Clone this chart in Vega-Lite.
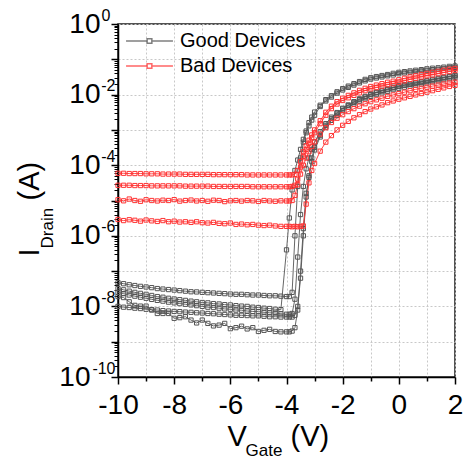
{
"$schema": "https://vega.github.io/schema/vega-lite/v6.json",
"width": 337, "height": 353,
"autosize": {"type": "none"},
"padding": {"left": 118, "top": 24, "right": 10, "bottom": 81},
"background": "white",
"config": {"view": {"stroke": "#1a1a1a", "strokeWidth": 1.5}, "font": "Liberation Sans"},
"data": {"values": [
{"g":"G","s":1,"v":-10,"i":4.7e-8},{"g":"G","s":1,"v":-9.8,"i":4.4e-8},{"g":"G","s":1,"v":-9.6,"i":4.1e-8},{"g":"G","s":1,"v":-9.4,"i":3.9e-8},{"g":"G","s":1,"v":-9.2,"i":3.7e-8},{"g":"G","s":1,"v":-9,"i":3.55e-8},{"g":"G","s":1,"v":-8.8,"i":3.4e-8},{"g":"G","s":1,"v":-8.6,"i":3.2e-8},{"g":"G","s":1,"v":-8.4,"i":3.1e-8},{"g":"G","s":1,"v":-8.2,"i":3.0e-8},{"g":"G","s":1,"v":-8,"i":2.9e-8},{"g":"G","s":1,"v":-7.8,"i":2.8e-8},{"g":"G","s":1,"v":-7.6,"i":2.7e-8},{"g":"G","s":1,"v":-7.4,"i":2.6e-8},{"g":"G","s":1,"v":-7.2,"i":2.57e-8},{"g":"G","s":1,"v":-7,"i":2.5e-8},{"g":"G","s":1,"v":-6.8,"i":2.45e-8},{"g":"G","s":1,"v":-6.6,"i":2.4e-8},{"g":"G","s":1,"v":-6.4,"i":2.34e-8},{"g":"G","s":1,"v":-6.2,"i":2.3e-8},{"g":"G","s":1,"v":-6,"i":2.24e-8},{"g":"G","s":1,"v":-5.8,"i":2.2e-8},{"g":"G","s":1,"v":-5.6,"i":2.2e-8},{"g":"G","s":1,"v":-5.4,"i":2.14e-8},{"g":"G","s":1,"v":-5.2,"i":2.1e-8},{"g":"G","s":1,"v":-5,"i":2.1e-8},{"g":"G","s":1,"v":-4.8,"i":2.04e-8},{"g":"G","s":1,"v":-4.6,"i":2.0e-8},{"g":"G","s":1,"v":-4.4,"i":2.0e-8},{"g":"G","s":1,"v":-4.2,"i":1.95e-8},{"g":"G","s":1,"v":-4,"i":1.9e-8},
{"g":"G","s":1,"v":-3.9,"i":1.9e-8},{"g":"G","s":1,"v":-3.8,"i":2.5e-8},{"g":"G","s":1,"v":-3.7,"i":1e-6},{"g":"G","s":1,"v":-3.6,"i":2.5e-5},{"g":"G","s":1,"v":-3.5,"i":1.6e-4},{"g":"G","s":1,"v":-3.4,"i":4.5e-4},{"g":"G","s":1,"v":-3.3,"i":8.3e-4},{"g":"G","s":1,"v":-3.2,"i":1.3e-3},{"g":"G","s":1,"v":-3.1,"i":1.9e-3},{"g":"G","s":1,"v":-3,"i":2.6e-3},
{"g":"G","s":1,"v":-2.8,"i":4.6e-3},{"g":"G","s":1,"v":-2.6,"i":6.6e-3},{"g":"G","s":1,"v":-2.4,"i":8.5e-3},{"g":"G","s":1,"v":-2.2,"i":1.1e-2},{"g":"G","s":1,"v":-2,"i":1.35e-2},{"g":"G","s":1,"v":-1.8,"i":1.6e-2},{"g":"G","s":1,"v":-1.6,"i":1.86e-2},{"g":"G","s":1,"v":-1.4,"i":2.14e-2},{"g":"G","s":1,"v":-1.2,"i":2.45e-2},{"g":"G","s":1,"v":-1,"i":2.75e-2},{"g":"G","s":1,"v":-0.8,"i":2.95e-2},{"g":"G","s":1,"v":-0.6,"i":3.16e-2},{"g":"G","s":1,"v":-0.4,"i":3.4e-2},{"g":"G","s":1,"v":-0.2,"i":3.6e-2},{"g":"G","s":1,"v":0,"i":3.9e-2},{"g":"G","s":1,"v":0.2,"i":4.1e-2},{"g":"G","s":1,"v":0.4,"i":4.3e-2},{"g":"G","s":1,"v":0.6,"i":4.5e-2},{"g":"G","s":1,"v":0.8,"i":4.7e-2},{"g":"G","s":1,"v":1,"i":4.9e-2},{"g":"G","s":1,"v":1.2,"i":5.1e-2},{"g":"G","s":1,"v":1.4,"i":5.25e-2},{"g":"G","s":1,"v":1.6,"i":5.5e-2},{"g":"G","s":1,"v":1.8,"i":5.75e-2},{"g":"G","s":1,"v":2,"i":5.9e-2},
{"g":"G","s":2,"v":-10,"i":3.2e-8},{"g":"G","s":2,"v":-9.8,"i":2.95e-8},{"g":"G","s":2,"v":-9.6,"i":2.7e-8},{"g":"G","s":2,"v":-9.4,"i":2.5e-8},{"g":"G","s":2,"v":-9.2,"i":2.34e-8},{"g":"G","s":2,"v":-9,"i":2.2e-8},{"g":"G","s":2,"v":-8.8,"i":2.04e-8},{"g":"G","s":2,"v":-8.6,"i":1.9e-8},{"g":"G","s":2,"v":-8.4,"i":1.82e-8},{"g":"G","s":2,"v":-8.2,"i":1.7e-8},{"g":"G","s":2,"v":-8,"i":1.62e-8},{"g":"G","s":2,"v":-7.8,"i":1.55e-8},{"g":"G","s":2,"v":-7.6,"i":1.48e-8},{"g":"G","s":2,"v":-7.4,"i":1.41e-8},{"g":"G","s":2,"v":-7.2,"i":1.35e-8},{"g":"G","s":2,"v":-7,"i":1.29e-8},{"g":"G","s":2,"v":-6.8,"i":1.26e-8},{"g":"G","s":2,"v":-6.6,"i":1.2e-8},{"g":"G","s":2,"v":-6.4,"i":1.17e-8},{"g":"G","s":2,"v":-6.2,"i":1.12e-8},{"g":"G","s":2,"v":-6,"i":1.1e-8},{"g":"G","s":2,"v":-5.8,"i":1.05e-8},{"g":"G","s":2,"v":-5.6,"i":1.02e-8},{"g":"G","s":2,"v":-5.4,"i":1.0e-8},{"g":"G","s":2,"v":-5.2,"i":9.5e-9},{"g":"G","s":2,"v":-5,"i":9.3e-9},{"g":"G","s":2,"v":-4.8,"i":8.9e-9},{"g":"G","s":2,"v":-4.6,"i":8.7e-9},{"g":"G","s":2,"v":-4.4,"i":8.3e-9},{"g":"G","s":2,"v":-4.2,"i":8.1e-9},{"g":"G","s":2,"v":-4,"i":4e-7},
{"g":"G","s":2,"v":-3.9,"i":3.2e-6},{"g":"G","s":2,"v":-3.8,"i":2e-5},{"g":"G","s":2,"v":-3.7,"i":7.1e-5},{"g":"G","s":2,"v":-3.6,"i":1.4e-4},{"g":"G","s":2,"v":-3.5,"i":2.8e-4},{"g":"G","s":2,"v":-3.4,"i":5.4e-4},{"g":"G","s":2,"v":-3.3,"i":9.3e-4},{"g":"G","s":2,"v":-3.2,"i":1.6e-3},{"g":"G","s":2,"v":-3.1,"i":2.3e-3},{"g":"G","s":2,"v":-3,"i":3.2e-3},
{"g":"G","s":2,"v":-2.8,"i":5.0e-3},{"g":"G","s":2,"v":-2.6,"i":7.2e-3},{"g":"G","s":2,"v":-2.4,"i":9.3e-3},{"g":"G","s":2,"v":-2.2,"i":1.2e-2},{"g":"G","s":2,"v":-2,"i":1.48e-2},{"g":"G","s":2,"v":-1.8,"i":1.74e-2},{"g":"G","s":2,"v":-1.6,"i":2.04e-2},{"g":"G","s":2,"v":-1.4,"i":2.34e-2},{"g":"G","s":2,"v":-1.2,"i":2.7e-2},{"g":"G","s":2,"v":-1,"i":3.0e-2},{"g":"G","s":2,"v":-0.8,"i":3.24e-2},{"g":"G","s":2,"v":-0.6,"i":3.47e-2},{"g":"G","s":2,"v":-0.4,"i":3.7e-2},{"g":"G","s":2,"v":-0.2,"i":4.0e-2},{"g":"G","s":2,"v":0,"i":4.27e-2},{"g":"G","s":2,"v":0.2,"i":4.47e-2},{"g":"G","s":2,"v":0.4,"i":4.68e-2},{"g":"G","s":2,"v":0.6,"i":4.9e-2},{"g":"G","s":2,"v":0.8,"i":5.1e-2},{"g":"G","s":2,"v":1,"i":5.37e-2},{"g":"G","s":2,"v":1.2,"i":5.6e-2},{"g":"G","s":2,"v":1.4,"i":5.75e-2},{"g":"G","s":2,"v":1.6,"i":6.0e-2},{"g":"G","s":2,"v":1.8,"i":6.3e-2},{"g":"G","s":2,"v":2,"i":6.46e-2},
{"g":"G","s":3,"v":-10,"i":2.5e-8},{"g":"G","s":3,"v":-9.8,"i":2.3e-8},{"g":"G","s":3,"v":-9.6,"i":2.1e-8},{"g":"G","s":3,"v":-9.4,"i":1.95e-8},{"g":"G","s":3,"v":-9.2,"i":1.82e-8},{"g":"G","s":3,"v":-9,"i":1.7e-8},{"g":"G","s":3,"v":-8.8,"i":1.58e-8},{"g":"G","s":3,"v":-8.6,"i":1.48e-8},{"g":"G","s":3,"v":-8.4,"i":1.41e-8},{"g":"G","s":3,"v":-8.2,"i":1.32e-8},{"g":"G","s":3,"v":-8,"i":1.26e-8},{"g":"G","s":3,"v":-7.8,"i":1.2e-8},{"g":"G","s":3,"v":-7.6,"i":1.15e-8},{"g":"G","s":3,"v":-7.4,"i":1.1e-8},{"g":"G","s":3,"v":-7.2,"i":1.05e-8},{"g":"G","s":3,"v":-7,"i":1.0e-8},{"g":"G","s":3,"v":-6.8,"i":9.5e-9},{"g":"G","s":3,"v":-6.6,"i":9.3e-9},{"g":"G","s":3,"v":-6.4,"i":8.9e-9},{"g":"G","s":3,"v":-6.2,"i":8.5e-9},{"g":"G","s":3,"v":-6,"i":8.3e-9},{"g":"G","s":3,"v":-5.8,"i":7.9e-9},{"g":"G","s":3,"v":-5.6,"i":7.8e-9},{"g":"G","s":3,"v":-5.4,"i":7.4e-9},{"g":"G","s":3,"v":-5.2,"i":7.2e-9},{"g":"G","s":3,"v":-5,"i":7.1e-9},{"g":"G","s":3,"v":-4.8,"i":6.8e-9},{"g":"G","s":3,"v":-4.6,"i":6.6e-9},{"g":"G","s":3,"v":-4.4,"i":6.5e-9},{"g":"G","s":3,"v":-4.2,"i":6.2e-9},{"g":"G","s":3,"v":-4,"i":6.0e-9},
{"g":"G","s":3,"v":-3.9,"i":6.0e-9},{"g":"G","s":3,"v":-3.8,"i":6.3e-9},{"g":"G","s":3,"v":-3.7,"i":1.6e-8},{"g":"G","s":3,"v":-3.6,"i":2.5e-7},{"g":"G","s":3,"v":-3.5,"i":4e-6},{"g":"G","s":3,"v":-3.4,"i":2.5e-5},{"g":"G","s":3,"v":-3.3,"i":7.9e-5},{"g":"G","s":3,"v":-3.2,"i":1.6e-4},{"g":"G","s":3,"v":-3.1,"i":2.8e-4},{"g":"G","s":3,"v":-3,"i":4.5e-4},
{"g":"G","s":3,"v":-2.8,"i":8.9e-4},{"g":"G","s":3,"v":-2.6,"i":1.5e-3},{"g":"G","s":3,"v":-2.4,"i":2.3e-3},{"g":"G","s":3,"v":-2.2,"i":3.1e-3},{"g":"G","s":3,"v":-2,"i":4.1e-3},{"g":"G","s":3,"v":-1.8,"i":5.1e-3},{"g":"G","s":3,"v":-1.6,"i":6.3e-3},{"g":"G","s":3,"v":-1.4,"i":7.6e-3},{"g":"G","s":3,"v":-1.2,"i":8.9e-3},{"g":"G","s":3,"v":-1,"i":1.05e-2},{"g":"G","s":3,"v":-0.8,"i":1.17e-2},{"g":"G","s":3,"v":-0.6,"i":1.32e-2},{"g":"G","s":3,"v":-0.4,"i":1.45e-2},{"g":"G","s":3,"v":-0.2,"i":1.62e-2},{"g":"G","s":3,"v":0,"i":1.78e-2},{"g":"G","s":3,"v":0.2,"i":1.9e-2},{"g":"G","s":3,"v":0.4,"i":2.04e-2},{"g":"G","s":3,"v":0.6,"i":2.2e-2},{"g":"G","s":3,"v":0.8,"i":2.34e-2},{"g":"G","s":3,"v":1,"i":2.5e-2},{"g":"G","s":3,"v":1.2,"i":2.7e-2},{"g":"G","s":3,"v":1.4,"i":2.9e-2},{"g":"G","s":3,"v":1.6,"i":3.1e-2},{"g":"G","s":3,"v":1.8,"i":3.3e-2},{"g":"G","s":3,"v":2,"i":3.55e-2},
{"g":"G","s":4,"v":-10,"i":1.0e-8},{"g":"G","s":4,"v":-9.8,"i":9.5e-9},{"g":"G","s":4,"v":-9.6,"i":9.3e-9},{"g":"G","s":4,"v":-9.4,"i":8.9e-9},{"g":"G","s":4,"v":-9.2,"i":8.7e-9},{"g":"G","s":4,"v":-9,"i":8.3e-9},{"g":"G","s":4,"v":-8.8,"i":8.1e-9},{"g":"G","s":4,"v":-8.6,"i":7.9e-9},{"g":"G","s":4,"v":-8.4,"i":7.6e-9},{"g":"G","s":4,"v":-8.2,"i":7.4e-9},{"g":"G","s":4,"v":-8,"i":7.2e-9},{"g":"G","s":4,"v":-7.8,"i":7.1e-9},{"g":"G","s":4,"v":-7.6,"i":6.9e-9},{"g":"G","s":4,"v":-7.4,"i":6.8e-9},{"g":"G","s":4,"v":-7.2,"i":6.6e-9},{"g":"G","s":4,"v":-7,"i":6.5e-9},{"g":"G","s":4,"v":-6.8,"i":6.3e-9},{"g":"G","s":4,"v":-6.6,"i":6.2e-9},{"g":"G","s":4,"v":-6.4,"i":6.0e-9},{"g":"G","s":4,"v":-6.2,"i":5.9e-9},{"g":"G","s":4,"v":-6,"i":5.75e-9},{"g":"G","s":4,"v":-5.8,"i":5.6e-9},{"g":"G","s":4,"v":-5.6,"i":5.6e-9},{"g":"G","s":4,"v":-5.4,"i":5.5e-9},{"g":"G","s":4,"v":-5.2,"i":5.4e-9},{"g":"G","s":4,"v":-5,"i":5.4e-9},{"g":"G","s":4,"v":-4.8,"i":5.25e-9},{"g":"G","s":4,"v":-4.6,"i":5.1e-9},{"g":"G","s":4,"v":-4.4,"i":5.1e-9},{"g":"G","s":4,"v":-4.2,"i":5.0e-9},{"g":"G","s":4,"v":-4,"i":5.0e-9},
{"g":"G","s":4,"v":-3.9,"i":5.0e-9},{"g":"G","s":4,"v":-3.8,"i":5.0e-9},{"g":"G","s":4,"v":-3.7,"i":5.6e-9},{"g":"G","s":4,"v":-3.6,"i":1e-8},{"g":"G","s":4,"v":-3.5,"i":6.3e-8},{"g":"G","s":4,"v":-3.4,"i":1e-6},{"g":"G","s":4,"v":-3.3,"i":1.26e-5},{"g":"G","s":4,"v":-3.2,"i":5e-5},{"g":"G","s":4,"v":-3.1,"i":1.6e-4},{"g":"G","s":4,"v":-3,"i":3.2e-4},
{"g":"G","s":4,"v":-2.8,"i":7.1e-4},{"g":"G","s":4,"v":-2.6,"i":1.35e-3},{"g":"G","s":4,"v":-2.4,"i":2.1e-3},{"g":"G","s":4,"v":-2.2,"i":2.95e-3},{"g":"G","s":4,"v":-2,"i":3.9e-3},{"g":"G","s":4,"v":-1.8,"i":4.9e-3},{"g":"G","s":4,"v":-1.6,"i":6.0e-3},{"g":"G","s":4,"v":-1.4,"i":7.2e-3},{"g":"G","s":4,"v":-1.2,"i":8.5e-3},{"g":"G","s":4,"v":-1,"i":1.0e-2},{"g":"G","s":4,"v":-0.8,"i":1.12e-2},{"g":"G","s":4,"v":-0.6,"i":1.26e-2},{"g":"G","s":4,"v":-0.4,"i":1.38e-2},{"g":"G","s":4,"v":-0.2,"i":1.55e-2},{"g":"G","s":4,"v":0,"i":1.7e-2},{"g":"G","s":4,"v":0.2,"i":1.82e-2},{"g":"G","s":4,"v":0.4,"i":1.95e-2},{"g":"G","s":4,"v":0.6,"i":2.1e-2},{"g":"G","s":4,"v":0.8,"i":2.24e-2},{"g":"G","s":4,"v":1,"i":2.4e-2},{"g":"G","s":4,"v":1.2,"i":2.57e-2},{"g":"G","s":4,"v":1.4,"i":2.75e-2},{"g":"G","s":4,"v":1.6,"i":2.95e-2},{"g":"G","s":4,"v":1.8,"i":3.16e-2},{"g":"G","s":4,"v":2,"i":3.4e-2},
{"g":"G","s":5,"v":-10,"i":1.9e-8},{"g":"G","s":5,"v":-9.8,"i":1.78e-8},{"g":"G","s":5,"v":-9.6,"i":1.35e-8},{"g":"G","s":5,"v":-9.4,"i":1.07e-8},{"g":"G","s":5,"v":-9.2,"i":1.02e-8},{"g":"G","s":5,"v":-9,"i":1.02e-8},{"g":"G","s":5,"v":-8.8,"i":7.9e-9},{"g":"G","s":5,"v":-8.6,"i":6.3e-9},{"g":"G","s":5,"v":-8.4,"i":6.3e-9},{"g":"G","s":5,"v":-8.2,"i":6.3e-9},{"g":"G","s":5,"v":-8,"i":4.6e-9},{"g":"G","s":5,"v":-7.8,"i":4.8e-9},{"g":"G","s":5,"v":-7.6,"i":5.1e-9},{"g":"G","s":5,"v":-7.4,"i":4.1e-9},{"g":"G","s":5,"v":-7.2,"i":3.4e-9},{"g":"G","s":5,"v":-7,"i":4.1e-9},{"g":"G","s":5,"v":-6.8,"i":3.3e-9},{"g":"G","s":5,"v":-6.6,"i":2.8e-9},{"g":"G","s":5,"v":-6.4,"i":2.95e-9},{"g":"G","s":5,"v":-6.2,"i":3.3e-9},{"g":"G","s":5,"v":-6,"i":2.34e-9},{"g":"G","s":5,"v":-5.8,"i":2.5e-9},{"g":"G","s":5,"v":-5.6,"i":2.75e-9},{"g":"G","s":5,"v":-5.4,"i":2.3e-9},{"g":"G","s":5,"v":-5.2,"i":2.5e-9},{"g":"G","s":5,"v":-5,"i":1.95e-9},{"g":"G","s":5,"v":-4.8,"i":2.1e-9},{"g":"G","s":5,"v":-4.6,"i":2.24e-9},{"g":"G","s":5,"v":-4.4,"i":1.95e-9},{"g":"G","s":5,"v":-4.2,"i":1.9e-9},{"g":"G","s":5,"v":-4,"i":1.9e-9},
{"g":"G","s":5,"v":-3.9,"i":1.9e-9},{"g":"G","s":5,"v":-3.8,"i":2.0e-9},{"g":"G","s":5,"v":-3.7,"i":2.5e-9},{"g":"G","s":5,"v":-3.6,"i":7.9e-9},{"g":"G","s":5,"v":-3.5,"i":1e-7},{"g":"G","s":5,"v":-3.4,"i":1.6e-6},{"g":"G","s":5,"v":-3.3,"i":1.6e-5},{"g":"G","s":5,"v":-3.2,"i":4.5e-5},{"g":"G","s":5,"v":-3.1,"i":1.26e-4},{"g":"G","s":5,"v":-3,"i":2.7e-4},
{"g":"G","s":5,"v":-2.8,"i":6.3e-4},{"g":"G","s":5,"v":-2.6,"i":1.2e-3},{"g":"G","s":5,"v":-2.4,"i":1.86e-3},{"g":"G","s":5,"v":-2.2,"i":2.6e-3},{"g":"G","s":5,"v":-2,"i":3.5e-3},{"g":"G","s":5,"v":-1.8,"i":4.4e-3},{"g":"G","s":5,"v":-1.6,"i":5.4e-3},{"g":"G","s":5,"v":-1.4,"i":6.5e-3},{"g":"G","s":5,"v":-1.2,"i":7.6e-3},{"g":"G","s":5,"v":-1,"i":8.9e-3},{"g":"G","s":5,"v":-0.8,"i":1.0e-2},{"g":"G","s":5,"v":-0.6,"i":1.12e-2},{"g":"G","s":5,"v":-0.4,"i":1.23e-2},{"g":"G","s":5,"v":-0.2,"i":1.38e-2},{"g":"G","s":5,"v":0,"i":1.51e-2},{"g":"G","s":5,"v":0.2,"i":1.62e-2},{"g":"G","s":5,"v":0.4,"i":1.74e-2},{"g":"G","s":5,"v":0.6,"i":1.86e-2},{"g":"G","s":5,"v":0.8,"i":2.0e-2},{"g":"G","s":5,"v":1,"i":2.14e-2},{"g":"G","s":5,"v":1.2,"i":2.3e-2},{"g":"G","s":5,"v":1.4,"i":2.45e-2},{"g":"G","s":5,"v":1.6,"i":2.63e-2},{"g":"G","s":5,"v":1.8,"i":2.8e-2},{"g":"G","s":5,"v":2,"i":3.0e-2},
{"g":"B","s":6,"v":-10,"i":5.9e-5},{"g":"B","s":6,"v":-9.8,"i":5.9e-5},{"g":"B","s":6,"v":-9.6,"i":5.8e-5},{"g":"B","s":6,"v":-9.4,"i":5.8e-5},{"g":"B","s":6,"v":-9.2,"i":5.8e-5},{"g":"B","s":6,"v":-9,"i":5.7e-5},{"g":"B","s":6,"v":-8.8,"i":5.7e-5},{"g":"B","s":6,"v":-8.6,"i":5.7e-5},{"g":"B","s":6,"v":-8.4,"i":5.6e-5},{"g":"B","s":6,"v":-8.2,"i":5.6e-5},{"g":"B","s":6,"v":-8,"i":5.6e-5},{"g":"B","s":6,"v":-7.8,"i":5.6e-5},{"g":"B","s":6,"v":-7.6,"i":5.5e-5},{"g":"B","s":6,"v":-7.4,"i":5.5e-5},{"g":"B","s":6,"v":-7.2,"i":5.5e-5},{"g":"B","s":6,"v":-7,"i":5.5e-5},{"g":"B","s":6,"v":-6.8,"i":5.5e-5},{"g":"B","s":6,"v":-6.6,"i":5.4e-5},{"g":"B","s":6,"v":-6.4,"i":5.4e-5},{"g":"B","s":6,"v":-6.2,"i":5.4e-5},{"g":"B","s":6,"v":-6,"i":5.4e-5},{"g":"B","s":6,"v":-5.8,"i":5.4e-5},{"g":"B","s":6,"v":-5.6,"i":5.4e-5},{"g":"B","s":6,"v":-5.4,"i":5.3e-5},{"g":"B","s":6,"v":-5.2,"i":5.3e-5},{"g":"B","s":6,"v":-5,"i":5.3e-5},{"g":"B","s":6,"v":-4.8,"i":5.3e-5},{"g":"B","s":6,"v":-4.6,"i":5.3e-5},{"g":"B","s":6,"v":-4.4,"i":5.3e-5},{"g":"B","s":6,"v":-4.2,"i":5.3e-5},{"g":"B","s":6,"v":-4,"i":5.3e-5},
{"g":"B","s":6,"v":-3.9,"i":5.3e-5},{"g":"B","s":6,"v":-3.8,"i":5.3e-5},{"g":"B","s":6,"v":-3.7,"i":5.5e-5},{"g":"B","s":6,"v":-3.6,"i":7.1e-5},{"g":"B","s":6,"v":-3.5,"i":1.26e-4},{"g":"B","s":6,"v":-3.4,"i":2.4e-4},{"g":"B","s":6,"v":-3.3,"i":3.55e-4},{"g":"B","s":6,"v":-3.2,"i":5.1e-4},{"g":"B","s":6,"v":-3.1,"i":7.2e-4},{"g":"B","s":6,"v":-3,"i":1.0e-3},
{"g":"B","s":6,"v":-2.8,"i":1.82e-3},{"g":"B","s":6,"v":-2.6,"i":3.16e-3},{"g":"B","s":6,"v":-2.4,"i":4.7e-3},{"g":"B","s":6,"v":-2.2,"i":6.3e-3},{"g":"B","s":6,"v":-2,"i":7.9e-3},{"g":"B","s":6,"v":-1.8,"i":9.5e-3},{"g":"B","s":6,"v":-1.6,"i":1.12e-2},{"g":"B","s":6,"v":-1.4,"i":1.32e-2},{"g":"B","s":6,"v":-1.2,"i":1.51e-2},{"g":"B","s":6,"v":-1,"i":1.7e-2},{"g":"B","s":6,"v":-0.8,"i":1.86e-2},{"g":"B","s":6,"v":-0.6,"i":2.04e-2},{"g":"B","s":6,"v":-0.4,"i":2.24e-2},{"g":"B","s":6,"v":-0.2,"i":2.4e-2},{"g":"B","s":6,"v":0,"i":2.63e-2},{"g":"B","s":6,"v":0.2,"i":2.9e-2},{"g":"B","s":6,"v":0.4,"i":3.16e-2},{"g":"B","s":6,"v":0.6,"i":3.4e-2},{"g":"B","s":6,"v":0.8,"i":3.7e-2},{"g":"B","s":6,"v":1,"i":4.0e-2},{"g":"B","s":6,"v":1.2,"i":4.27e-2},{"g":"B","s":6,"v":1.4,"i":4.57e-2},{"g":"B","s":6,"v":1.6,"i":4.9e-2},{"g":"B","s":6,"v":1.8,"i":5.25e-2},{"g":"B","s":6,"v":2,"i":5.5e-2},
{"g":"B","s":7,"v":-10,"i":2.7e-5},{"g":"B","s":7,"v":-9.8,"i":2.7e-5},{"g":"B","s":7,"v":-9.6,"i":2.7e-5},{"g":"B","s":7,"v":-9.4,"i":2.65e-5},{"g":"B","s":7,"v":-9.2,"i":2.65e-5},{"g":"B","s":7,"v":-9,"i":2.65e-5},{"g":"B","s":7,"v":-8.8,"i":2.6e-5},{"g":"B","s":7,"v":-8.6,"i":2.6e-5},{"g":"B","s":7,"v":-8.4,"i":2.6e-5},{"g":"B","s":7,"v":-8.2,"i":2.6e-5},{"g":"B","s":7,"v":-8,"i":2.6e-5},{"g":"B","s":7,"v":-7.8,"i":2.6e-5},{"g":"B","s":7,"v":-7.6,"i":2.55e-5},{"g":"B","s":7,"v":-7.4,"i":2.55e-5},{"g":"B","s":7,"v":-7.2,"i":2.55e-5},{"g":"B","s":7,"v":-7,"i":2.55e-5},{"g":"B","s":7,"v":-6.8,"i":2.55e-5},{"g":"B","s":7,"v":-6.6,"i":2.5e-5},{"g":"B","s":7,"v":-6.4,"i":2.5e-5},{"g":"B","s":7,"v":-6.2,"i":2.5e-5},{"g":"B","s":7,"v":-6,"i":2.5e-5},{"g":"B","s":7,"v":-5.8,"i":2.5e-5},{"g":"B","s":7,"v":-5.6,"i":2.5e-5},{"g":"B","s":7,"v":-5.4,"i":2.5e-5},{"g":"B","s":7,"v":-5.2,"i":2.45e-5},{"g":"B","s":7,"v":-5,"i":2.45e-5},{"g":"B","s":7,"v":-4.8,"i":2.45e-5},{"g":"B","s":7,"v":-4.6,"i":2.45e-5},{"g":"B","s":7,"v":-4.4,"i":2.45e-5},{"g":"B","s":7,"v":-4.2,"i":2.45e-5},{"g":"B","s":7,"v":-4,"i":2.45e-5},
{"g":"B","s":7,"v":-3.9,"i":2.45e-5},{"g":"B","s":7,"v":-3.8,"i":2.5e-5},{"g":"B","s":7,"v":-3.7,"i":2.7e-5},{"g":"B","s":7,"v":-3.6,"i":4e-5},{"g":"B","s":7,"v":-3.5,"i":8.9e-5},{"g":"B","s":7,"v":-3.4,"i":1.78e-4},{"g":"B","s":7,"v":-3.3,"i":2.8e-4},{"g":"B","s":7,"v":-3.2,"i":4.2e-4},{"g":"B","s":7,"v":-3.1,"i":6.0e-4},{"g":"B","s":7,"v":-3,"i":8.3e-4},
{"g":"B","s":7,"v":-2.8,"i":1.5e-3},{"g":"B","s":7,"v":-2.6,"i":2.6e-3},{"g":"B","s":7,"v":-2.4,"i":4.0e-3},{"g":"B","s":7,"v":-2.2,"i":5.4e-3},{"g":"B","s":7,"v":-2,"i":6.8e-3},{"g":"B","s":7,"v":-1.8,"i":8.1e-3},{"g":"B","s":7,"v":-1.6,"i":9.5e-3},{"g":"B","s":7,"v":-1.4,"i":1.12e-2},{"g":"B","s":7,"v":-1.2,"i":1.29e-2},{"g":"B","s":7,"v":-1,"i":1.45e-2},{"g":"B","s":7,"v":-0.8,"i":1.58e-2},{"g":"B","s":7,"v":-0.6,"i":1.74e-2},{"g":"B","s":7,"v":-0.4,"i":1.9e-2},{"g":"B","s":7,"v":-0.2,"i":2.04e-2},{"g":"B","s":7,"v":0,"i":2.24e-2},{"g":"B","s":7,"v":0.2,"i":2.45e-2},{"g":"B","s":7,"v":0.4,"i":2.7e-2},{"g":"B","s":7,"v":0.6,"i":2.9e-2},{"g":"B","s":7,"v":0.8,"i":3.16e-2},{"g":"B","s":7,"v":1,"i":3.4e-2},{"g":"B","s":7,"v":1.2,"i":3.6e-2},{"g":"B","s":7,"v":1.4,"i":3.9e-2},{"g":"B","s":7,"v":1.6,"i":4.2e-2},{"g":"B","s":7,"v":1.8,"i":4.5e-2},{"g":"B","s":7,"v":2,"i":4.8e-2},
{"g":"B","s":8,"v":-10,"i":1.05e-5},{"g":"B","s":8,"v":-9.8,"i":9.8e-6},{"g":"B","s":8,"v":-9.6,"i":1.1e-5},{"g":"B","s":8,"v":-9.4,"i":1.0e-5},{"g":"B","s":8,"v":-9.2,"i":9.5e-6},{"g":"B","s":8,"v":-9,"i":1.05e-5},{"g":"B","s":8,"v":-8.8,"i":1.0e-5},{"g":"B","s":8,"v":-8.6,"i":9.7e-6},{"g":"B","s":8,"v":-8.4,"i":1.02e-5},{"g":"B","s":8,"v":-8.2,"i":1.0e-5},{"g":"B","s":8,"v":-8,"i":1.06e-5},{"g":"B","s":8,"v":-7.8,"i":9.6e-6},{"g":"B","s":8,"v":-7.6,"i":1.0e-5},{"g":"B","s":8,"v":-7.4,"i":1.03e-5},{"g":"B","s":8,"v":-7.2,"i":9.7e-6},{"g":"B","s":8,"v":-7,"i":1.0e-5},{"g":"B","s":8,"v":-6.8,"i":9.5e-6},{"g":"B","s":8,"v":-6.6,"i":1.02e-5},{"g":"B","s":8,"v":-6.4,"i":1.0e-5},{"g":"B","s":8,"v":-6.2,"i":9.3e-6},{"g":"B","s":8,"v":-6,"i":9.8e-6},{"g":"B","s":8,"v":-5.8,"i":1.0e-5},{"g":"B","s":8,"v":-5.6,"i":9.6e-6},{"g":"B","s":8,"v":-5.4,"i":1.0e-5},{"g":"B","s":8,"v":-5.2,"i":9.8e-6},{"g":"B","s":8,"v":-5,"i":9.4e-6},{"g":"B","s":8,"v":-4.8,"i":1.0e-5},{"g":"B","s":8,"v":-4.6,"i":9.7e-6},{"g":"B","s":8,"v":-4.4,"i":9.5e-6},{"g":"B","s":8,"v":-4.2,"i":9.8e-6},{"g":"B","s":8,"v":-4,"i":9.7e-6},
{"g":"B","s":8,"v":-3.9,"i":9.7e-6},{"g":"B","s":8,"v":-3.8,"i":1.0e-5},{"g":"B","s":8,"v":-3.7,"i":1.4e-5},{"g":"B","s":8,"v":-3.6,"i":2.8e-5},{"g":"B","s":8,"v":-3.5,"i":5.6e-5},{"g":"B","s":8,"v":-3.4,"i":1.0e-4},{"g":"B","s":8,"v":-3.3,"i":1.6e-4},{"g":"B","s":8,"v":-3.2,"i":2.4e-4},{"g":"B","s":8,"v":-3.1,"i":3.4e-4},{"g":"B","s":8,"v":-3,"i":4.6e-4},
{"g":"B","s":8,"v":-2.8,"i":7.6e-4},{"g":"B","s":8,"v":-2.6,"i":1.15e-3},{"g":"B","s":8,"v":-2.4,"i":1.62e-3},{"g":"B","s":8,"v":-2.2,"i":2.14e-3},{"g":"B","s":8,"v":-2,"i":2.7e-3},{"g":"B","s":8,"v":-1.8,"i":3.3e-3},{"g":"B","s":8,"v":-1.6,"i":4.0e-3},{"g":"B","s":8,"v":-1.4,"i":4.7e-3},{"g":"B","s":8,"v":-1.2,"i":5.5e-3},{"g":"B","s":8,"v":-1,"i":6.3e-3},{"g":"B","s":8,"v":-0.8,"i":7.1e-3},{"g":"B","s":8,"v":-0.6,"i":7.9e-3},{"g":"B","s":8,"v":-0.4,"i":8.9e-3},{"g":"B","s":8,"v":-0.2,"i":9.8e-3},{"g":"B","s":8,"v":0,"i":1.07e-2},{"g":"B","s":8,"v":0.2,"i":1.17e-2},{"g":"B","s":8,"v":0.4,"i":1.29e-2},{"g":"B","s":8,"v":0.6,"i":1.41e-2},{"g":"B","s":8,"v":0.8,"i":1.51e-2},{"g":"B","s":8,"v":1,"i":1.62e-2},{"g":"B","s":8,"v":1.2,"i":1.74e-2},{"g":"B","s":8,"v":1.4,"i":1.86e-2},{"g":"B","s":8,"v":1.6,"i":2.0e-2},{"g":"B","s":8,"v":1.8,"i":2.14e-2},{"g":"B","s":8,"v":2,"i":2.24e-2},
{"g":"B","s":9,"v":-10,"i":2.9e-6},{"g":"B","s":9,"v":-9.8,"i":2.7e-6},{"g":"B","s":9,"v":-9.6,"i":2.85e-6},{"g":"B","s":9,"v":-9.4,"i":2.75e-6},{"g":"B","s":9,"v":-9.2,"i":2.6e-6},{"g":"B","s":9,"v":-9,"i":2.8e-6},{"g":"B","s":9,"v":-8.8,"i":2.65e-6},{"g":"B","s":9,"v":-8.6,"i":2.55e-6},{"g":"B","s":9,"v":-8.4,"i":2.7e-6},{"g":"B","s":9,"v":-8.2,"i":2.5e-6},{"g":"B","s":9,"v":-8,"i":2.6e-6},{"g":"B","s":9,"v":-7.8,"i":2.45e-6},{"g":"B","s":9,"v":-7.6,"i":2.5e-6},{"g":"B","s":9,"v":-7.4,"i":2.4e-6},{"g":"B","s":9,"v":-7.2,"i":2.5e-6},{"g":"B","s":9,"v":-7,"i":2.35e-6},{"g":"B","s":9,"v":-6.8,"i":2.3e-6},{"g":"B","s":9,"v":-6.6,"i":2.4e-6},{"g":"B","s":9,"v":-6.4,"i":2.25e-6},{"g":"B","s":9,"v":-6.2,"i":2.2e-6},{"g":"B","s":9,"v":-6,"i":2.3e-6},{"g":"B","s":9,"v":-5.8,"i":2.1e-6},{"g":"B","s":9,"v":-5.6,"i":2.15e-6},{"g":"B","s":9,"v":-5.4,"i":2.05e-6},{"g":"B","s":9,"v":-5.2,"i":2.1e-6},{"g":"B","s":9,"v":-5,"i":2.0e-6},{"g":"B","s":9,"v":-4.8,"i":1.95e-6},{"g":"B","s":9,"v":-4.6,"i":2.0e-6},{"g":"B","s":9,"v":-4.4,"i":1.9e-6},{"g":"B","s":9,"v":-4.2,"i":1.85e-6},{"g":"B","s":9,"v":-4,"i":1.85e-6},
{"g":"B","s":9,"v":-3.9,"i":1.85e-6},{"g":"B","s":9,"v":-3.8,"i":1.8e-6},{"g":"B","s":9,"v":-3.7,"i":1.85e-6},{"g":"B","s":9,"v":-3.6,"i":1.8e-6},{"g":"B","s":9,"v":-3.5,"i":1.85e-6},{"g":"B","s":9,"v":-3.4,"i":1.9e-6},{"g":"B","s":9,"v":-3.3,"i":7.9e-6},{"g":"B","s":9,"v":-3.2,"i":3.16e-5},{"g":"B","s":9,"v":-3.1,"i":7.1e-5},{"g":"B","s":9,"v":-3,"i":1.12e-4},
{"g":"B","s":9,"v":-2.8,"i":2.5e-4},{"g":"B","s":9,"v":-2.6,"i":4.5e-4},{"g":"B","s":9,"v":-2.4,"i":6.9e-4},{"g":"B","s":9,"v":-2.2,"i":1.0e-3},{"g":"B","s":9,"v":-2,"i":1.35e-3},{"g":"B","s":9,"v":-1.8,"i":1.74e-3},{"g":"B","s":9,"v":-1.6,"i":2.2e-3},{"g":"B","s":9,"v":-1.4,"i":2.7e-3},{"g":"B","s":9,"v":-1.2,"i":3.3e-3},{"g":"B","s":9,"v":-1,"i":3.9e-3},{"g":"B","s":9,"v":-0.8,"i":4.5e-3},{"g":"B","s":9,"v":-0.6,"i":5.1e-3},{"g":"B","s":9,"v":-0.4,"i":5.9e-3},{"g":"B","s":9,"v":-0.2,"i":6.6e-3},{"g":"B","s":9,"v":0,"i":7.4e-3},{"g":"B","s":9,"v":0.2,"i":8.1e-3},{"g":"B","s":9,"v":0.4,"i":8.9e-3},{"g":"B","s":9,"v":0.6,"i":9.8e-3},{"g":"B","s":9,"v":0.8,"i":1.07e-2},{"g":"B","s":9,"v":1,"i":1.17e-2},{"g":"B","s":9,"v":1.2,"i":1.29e-2},{"g":"B","s":9,"v":1.4,"i":1.41e-2},{"g":"B","s":9,"v":1.6,"i":1.55e-2},{"g":"B","s":9,"v":1.8,"i":1.7e-2},{"g":"B","s":9,"v":2,"i":1.82e-2}
]},
"layer": [
{
"mark": {"type": "line", "strokeWidth": 1, "opacity": 0.9, "point": {"shape": "square", "filled": false, "size": 18, "strokeWidth": 1}},
"encoding": {
"x": {"field": "v", "type": "quantitative", "scale": {"domain": [-10, 2], "nice": false, "zero": false},
 "axis": {"orient": "bottom", "values": [-10, -8, -6, -4, -2, 0, 2], "labelExpr": "'' + datum.value", "labelFont": "Liberation Sans", "labelFontSize": 28, "labelColor": "black", "labelPadding": 7, "labelFlush": false, "labelOverlap": false,
  "tickSize": 7, "tickWidth": 1.5, "tickColor": "black", "domainColor": "black", "domainWidth": 1.5,
  "grid": true, "gridColor": "#c8c8c8", "gridDash": [2, 2], "gridWidth": 1,
  "title": "V", "titleFont": "Liberation Sans", "titleFontSize": 29, "titleFontWeight": "normal", "titleColor": "black", "titleX": 109, "titleY": 68, "titleAlign": "left", "titleBaseline": "alphabetic", "titleAngle": 0}},
"y": {"field": "i", "type": "quantitative", "scale": {"type": "log", "domain": [1e-10, 1], "nice": false},
 "axis": {"orient": "left", "values": [1e-10, 1e-9, 1e-8, 1e-7, 1e-6, 1e-5, 1e-4, 1e-3, 1e-2, 1e-1, 1],
  "labelExpr": "abs(round(log(datum.value)/LN10)) % 2 == 0 ? '10' : ''",
  "labelFont": "Liberation Sans", "labelFontSize": 28, "labelColor": "black",
  "labelPadding": {"condition": {"test": "datum.value < 5e-10", "value": 21}, "value": 11},
  "labelOverlap": false, "labelFlush": false, "labelBound": false,
  "tickSize": 7, "tickWidth": 1.5, "tickColor": "black", "domainColor": "black", "domainWidth": 1.5,
  "grid": true, "gridColor": "#c8c8c8", "gridDash": [2, 2], "gridWidth": 1,
  "title": "I", "titleFont": "Liberation Sans", "titleFontSize": 29, "titleFontWeight": "normal", "titleColor": "black", "titleX": -80, "titleY": 232, "titleAlign": "left", "titleBaseline": "alphabetic", "titleAngle": -90}},
"color": {"field": "g", "type": "nominal", "scale": {"domain": ["G", "B"], "range": ["#555555", "#ff3333"]},
 "legend": {"orient": "none", "legendX": 7, "legendY": 7, "title": null, "padding": 0, "labelExpr": "datum.label == 'G' ? 'Good Devices' : 'Bad Devices'",
  "labelFont": "Liberation Sans", "labelFontSize": 20, "labelColor": "black", "labelOffset": 6, "rowPadding": 5, "clipHeight": 20,
  "symbolType": "M-1,0H-0.1M0.1,0H1M-0.1,-0.1H0.1V0.1H-0.1Z", "symbolSize": 2200, "symbolStrokeWidth": 1.5, "symbolOpacity": 0.75}},
"detail": {"field": "s", "type": "nominal"}
}
},
{
"data": {"values": [{"v": -10, "i": 1e-10}, {"v": 2, "i": 1}]},
"mark": {"type": "point", "opacity": 0},
"encoding": {
"x": {"field": "v", "type": "quantitative", "scale": {"domain": [-10, 2], "nice": false, "zero": false},
 "axis": {"orient": "bottom", "values": [-9, -7, -5, -3, -1, 1], "labels": false, "domain": false, "tickSize": 4, "tickWidth": 1.5, "tickColor": "black",
  "grid": true, "gridColor": "#c8c8c8", "gridDash": [2, 2], "gridWidth": 1,
  "title": "Gate", "titleFont": "Liberation Sans", "titleFontSize": 17, "titleFontWeight": "normal", "titleColor": "black", "titleX": 127, "titleY": 78, "titleAlign": "left", "titleBaseline": "alphabetic", "titleAngle": 0}},
"y": {"field": "i", "type": "quantitative", "scale": {"type": "log", "domain": [1e-10, 1], "nice": false},
 "axis": {"orient": "left", "tickCount": 100, "labels": false, "domain": false, "tickSize": 4, "tickWidth": 1, "tickColor": "black", "grid": false,
  "title": "Drain", "titleFont": "Liberation Sans", "titleFontSize": 17, "titleFontWeight": "normal", "titleColor": "black", "titleX": -66, "titleY": 224, "titleAlign": "left", "titleBaseline": "alphabetic", "titleAngle": -90}}
}
},
{
"data": {"values": [{"v": -10, "i": 1e-10}, {"v": 2, "i": 1}]},
"mark": {"type": "point", "opacity": 0},
"encoding": {
"x": {"field": "v", "type": "quantitative", "scale": {"domain": [-10, 2], "nice": false, "zero": false},
 "axis": {"orient": "bottom", "labels": false, "ticks": false, "domain": false, "grid": false,
  "title": "(V)", "titleFont": "Liberation Sans", "titleFontSize": 29, "titleFontWeight": "normal", "titleColor": "black", "titleX": 172, "titleY": 68, "titleAlign": "left", "titleBaseline": "alphabetic", "titleAngle": 0}},
"y": {"field": "i", "type": "quantitative", "scale": {"type": "log", "domain": [1e-10, 1], "nice": false},
 "axis": {"orient": "left", "values": [1e-10, 1e-8, 1e-6, 1e-4, 1e-2, 1],
  "labelExpr": "datum.value > 0.5 ? '0' : '-' + round(-log(datum.value)/LN10)",
  "labelFont": "Liberation Sans", "labelFontSize": 16, "labelColor": "black",
  "labelPadding": {"condition": {"test": "datum.value > 0.5", "value": 8}, "value": 3},
  "labelOffset": -9, "labelAlign": "right", "labelBaseline": "middle", "labelOverlap": false, "labelFlush": false, "labelBound": false,
  "ticks": false, "tickSize": 0, "domain": false, "grid": false,
  "title": "(A)", "titleFont": "Liberation Sans", "titleFontSize": 29, "titleFontWeight": "normal", "titleColor": "black", "titleX": -80, "titleY": 176, "titleAlign": "left", "titleBaseline": "alphabetic", "titleAngle": -90}}
}
}
],
"resolve": {"scale": {"x": "independent", "y": "independent"}, "axis": {"x": "independent", "y": "independent"}}
}
